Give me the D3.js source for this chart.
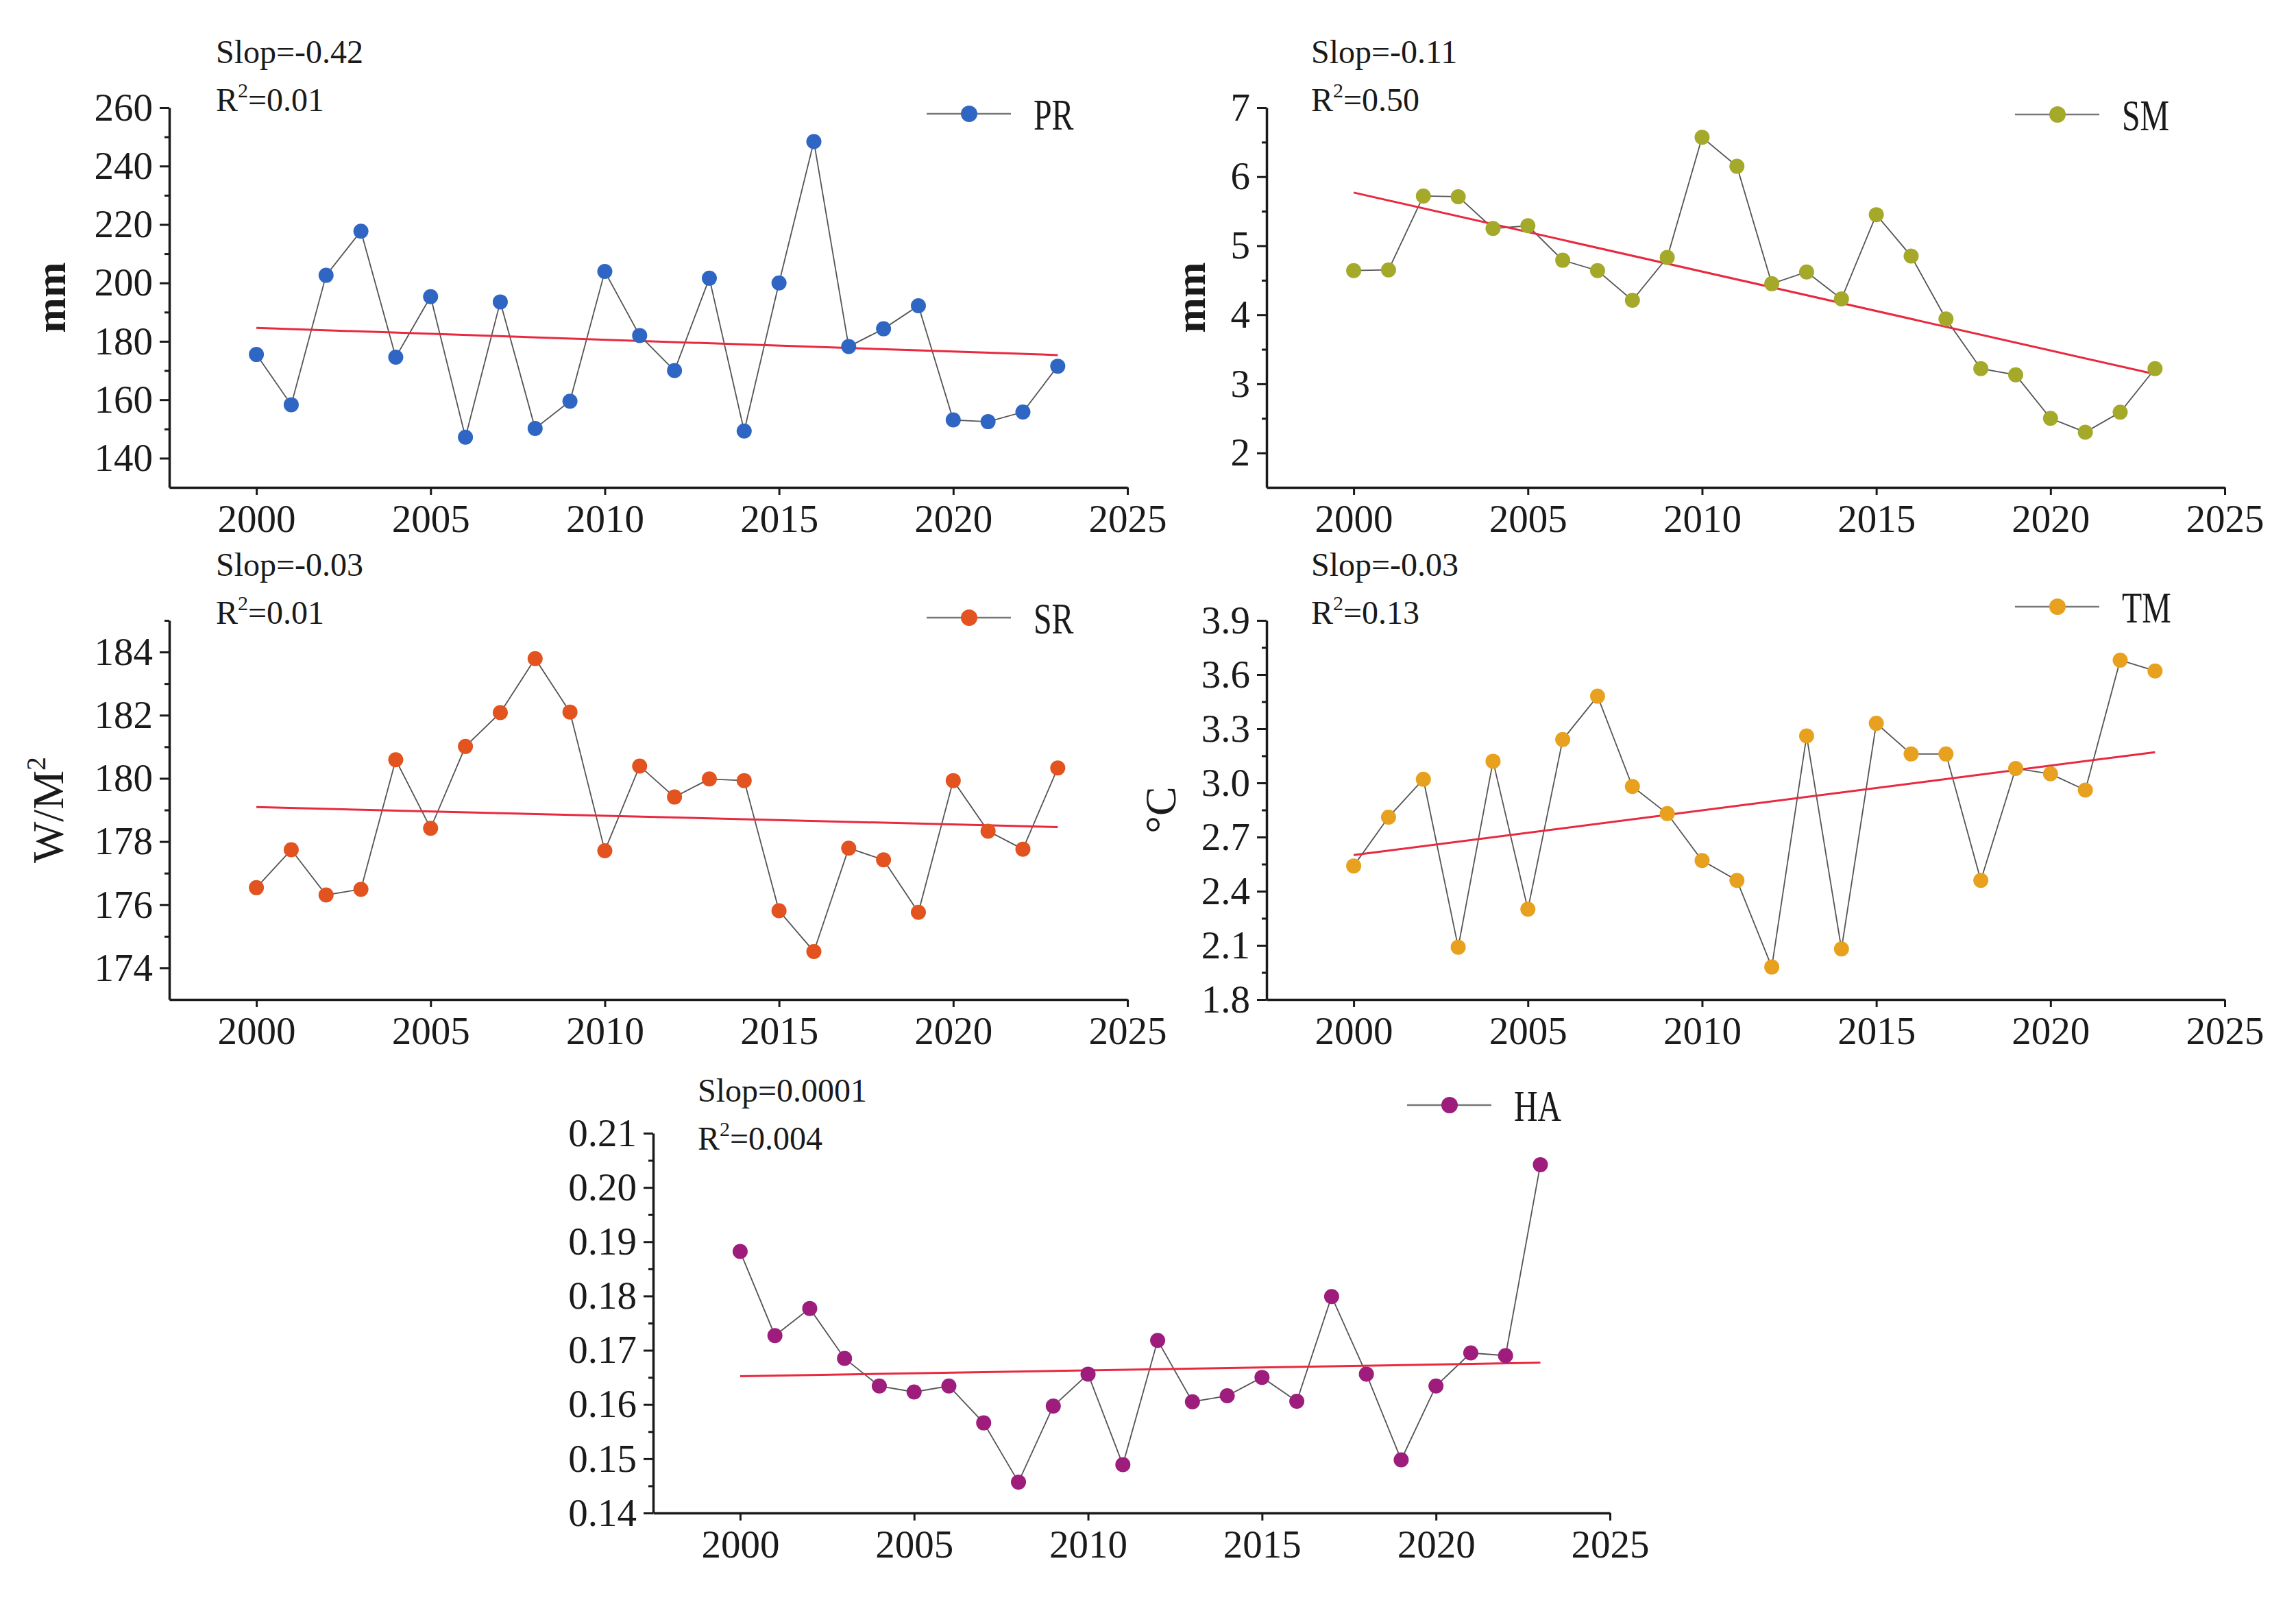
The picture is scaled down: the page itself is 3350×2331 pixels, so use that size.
<!DOCTYPE html>
<html>
<head>
<meta charset="utf-8">
<script src="https://cdn.jsdelivr.net/npm/d3@7/dist/d3.min.js"></script>
<style>
  body { margin: 0; background: #ffffff; }
  svg text { font-family: "Liberation Serif", "Times New Roman", serif !important; fill: #1a1a1a; }
</style>
</head>
<body>
<div id="svg-container"></div>
<script>
//years on the x axis
var years = [2000, 2001, 2002, 2003, 2004, 2005, 2006, 2007, 2008, 2009, 2010, 2011,
             2012, 2013, 2014, 2015, 2016, 2017, 2018, 2019, 2020, 2021, 2022, 2023];
var xTicks = [2000, 2005, 2010, 2015, 2020, 2025];

//series values
var prValues = [175.5, 158.3, 202.6, 217.7, 174.6, 195.3, 147.2, 193.5, 150.2, 159.5, 203.9, 182.0,
                170.0, 201.6, 149.3, 200.0, 248.4, 178.2, 184.3, 192.2, 153.1, 152.5, 155.8, 171.5];
var smValues = [4.64, 4.65, 5.72, 5.71, 5.25, 5.29, 4.79, 4.64, 4.21, 4.83, 6.57, 6.15,
                4.45, 4.62, 4.23, 5.45, 4.85, 3.94, 3.22, 3.13, 2.50, 2.30, 2.59, 3.22];
var srValues = [176.54, 177.74, 176.31, 176.49, 180.59, 178.42, 181.01, 182.08, 183.79, 182.10, 177.71, 180.39,
                179.41, 179.98, 179.93, 175.81, 174.52, 177.79, 177.42, 175.76, 179.93, 178.33, 177.76, 180.33];
var tmValues = [2.54, 2.81, 3.02, 2.09, 3.12, 2.30, 3.24, 3.48, 2.98, 2.83, 2.57, 2.46,
                1.98, 3.26, 2.08, 3.33, 3.16, 3.16, 2.46, 3.08, 3.05, 2.96, 3.68, 3.62];
var haValues = [0.1882, 0.1727, 0.1777, 0.1685, 0.1634, 0.1623, 0.1634, 0.1566, 0.1457, 0.1597, 0.1656, 0.1489,
                0.1718, 0.1605, 0.1616, 0.1650, 0.1606, 0.1799, 0.1656, 0.1498, 0.1634, 0.1695, 0.1690, 0.2042];

//trend line end values (2000 and 2023)
var trendYears = [2000, 2023];
var prTrend = [184.6, 175.3];
var smTrend = [5.77, 3.14];
var srTrend = [179.09, 178.46];
var tmTrend = [2.60, 3.17];
var haTrend = [0.1652, 0.1677];

//tick values for each y axis
var prTicks = [140, 160, 180, 200, 220, 240, 260];
var prMinor = [150, 170, 190, 210, 230, 250];
var smTicks = [2, 3, 4, 5, 6, 7];
var smMinor = [2.5, 3.5, 4.5, 5.5, 6.5];
var srTicks = [174, 176, 178, 180, 182, 184];
var srMinor = [175, 177, 179, 181, 183, 185];
var tmTicks = [1.8, 2.1, 2.4, 2.7, 3.0, 3.3, 3.6, 3.9];
var tmMinor = [1.95, 2.25, 2.55, 2.85, 3.15, 3.45, 3.75];
var haTicks = [0.14, 0.15, 0.16, 0.17, 0.18, 0.19, 0.20, 0.21];
var haMinor = [0.145, 0.155, 0.165, 0.175, 0.185, 0.195, 0.205];

//statistics text
var labels = ['PR', 'SM', 'SR', 'TM', 'HA'];
var slopTexts = ['Slop=-0.42', 'Slop=-0.11', 'Slop=-0.03', 'Slop=-0.03', 'Slop=0.0001'];
var r2Texts = ['=0.01', '=0.50', '=0.01', '=0.13', '=0.004'];

var serif = '"Liberation Serif", "Times New Roman", serif';

//panel layout
var panels = [
  { values: prValues, trend: prTrend, ticks: prTicks, minor: prMinor, yDomain: [130, 260],
    fmt: d3.format('d'), color: '#2f66c3',
    left: 247, right: 1645, top: 157, bottom: 711,
    title: 'mm', titleX: 95, bold: true,
    textX: 315, slopY: 92, r2Y: 162, legendX: 1414, legendY: 166 },
  { values: smValues, trend: smTrend, ticks: smTicks, minor: smMinor, yDomain: [1.5, 7],
    fmt: d3.format('d'), color: '#a4a92a',
    left: 1848, right: 3246, top: 157, bottom: 711,
    title: 'mm', titleX: 1758, bold: true,
    textX: 1913, slopY: 92, r2Y: 162, legendX: 3002, legendY: 167 },
  { values: srValues, trend: srTrend, ticks: srTicks, minor: srMinor, yDomain: [173, 185],
    fmt: d3.format('d'), color: '#e2531f',
    left: 247, right: 1645, top: 905, bottom: 1458,
    title: 'W/M', sup: '2', titleX: 92, bold: false,
    textX: 315, slopY: 840, r2Y: 910, legendX: 1414, legendY: 901 },
  { values: tmValues, trend: tmTrend, ticks: tmTicks, minor: tmMinor, yDomain: [1.8, 3.9],
    fmt: d3.format('.1f'), color: '#e8a11f',
    left: 1848, right: 3246, top: 905, bottom: 1458,
    title: '\u00B0C', titleX: 1715, bold: false,
    textX: 1913, slopY: 840, r2Y: 910, legendX: 3002, legendY: 885 },
  { values: haValues, trend: haTrend, ticks: haTicks, minor: haMinor, yDomain: [0.14, 0.21],
    fmt: d3.format('.2f'), color: '#9e1c7b',
    left: 953, right: 2349, top: 1653, bottom: 2207,
    title: null,
    textX: 1018, slopY: 1607, r2Y: 1677, legendX: 2115, legendY: 1612 }
];

//append svg element
var svg = d3.select('#svg-container').append('svg')
  .attr('width', 3350)
  .attr('height', 2331)
  .attr('font-family', serif);

svg.append('rect')
  .attr('width', 3350)
  .attr('height', 2331)
  .style('fill', '#ffffff');

panels.forEach(function(p, i) {
  var x = d3.scaleLinear().domain([1997.5, 2025]).range([p.left, p.right]);
  var y = d3.scaleLinear().domain(p.yDomain).range([p.bottom, p.top]);
  var g = svg.append('g');

  //minor y ticks
  var minorAxis = g.append('g')
    .attr('transform', 'translate(' + p.left + ',0)')
    .call(d3.axisLeft(y).tickValues(p.minor).tickSize(7).tickSizeOuter(0).tickFormat(''));
  minorAxis.select('.domain').remove();

  //major y axis
  g.append('g')
    .attr('transform', 'translate(' + p.left + ',0)')
    .call(d3.axisLeft(y).tickValues(p.ticks).tickSize(14).tickSizeOuter(0)
      .tickPadding(10).tickFormat(p.fmt));

  //x axis
  g.append('g')
    .attr('transform', 'translate(0,' + p.bottom + ')')
    .call(d3.axisBottom(x).tickValues(xTicks).tickSize(11).tickSizeOuter(0)
      .tickPadding(14).tickFormat(d3.format('d')));

  //axis styling: drop the default sans-serif font of d3 axes
  g.selectAll('g').attr('font-family', serif).attr('font-size', 57);
  g.selectAll('.domain').style('stroke', '#1a1a1a').style('stroke-width', 3.5);
  g.selectAll('.tick line').style('stroke', '#1a1a1a').style('stroke-width', 3);
  g.selectAll('.tick text')
    .attr('font-family', serif)
    .style('font-size', '57px')
    .style('fill', '#1a1a1a');

  //connecting line
  var line = d3.line()
    .x(function(d, j) { return x(years[j]); })
    .y(function(d) { return y(d); });
  g.append('path')
    .datum(p.values)
    .attr('d', line)
    .style('fill', 'none')
    .style('stroke', '#555555')
    .style('stroke-width', 1.8);

  //trend line
  var trendLine = d3.line()
    .x(function(d, j) { return x(trendYears[j]); })
    .y(function(d) { return y(d); });
  g.append('path')
    .datum(p.trend)
    .attr('d', trendLine)
    .style('fill', 'none')
    .style('stroke', '#e8293f')
    .style('stroke-width', 3);

  //points
  g.selectAll('circle.pt')
    .data(p.values)
    .enter().append('circle')
    .attr('class', 'pt')
    .attr('cx', function(d, j) { return x(years[j]); })
    .attr('cy', function(d) { return y(d); })
    .attr('r', 11)
    .style('fill', p.color);

  //slope and r2 text
  g.append('text')
    .attr('x', p.textX)
    .attr('y', p.slopY)
    .style('font-size', '48px')
    .text(slopTexts[i]);
  var r2 = g.append('text')
    .attr('x', p.textX)
    .attr('y', p.r2Y)
    .style('font-size', '48px');
  r2.append('tspan').text('R');
  r2.append('tspan').attr('dy', -20).style('font-size', '30px').text('2');
  r2.append('tspan').attr('dy', 20).text(r2Texts[i]);

  //legend
  g.append('line')
    .attr('x1', p.legendX - 62)
    .attr('x2', p.legendX + 61)
    .attr('y1', p.legendY)
    .attr('y2', p.legendY)
    .style('stroke', '#777777')
    .style('stroke-width', 2.5);
  g.append('circle')
    .attr('cx', p.legendX)
    .attr('cy', p.legendY)
    .attr('r', 12)
    .style('fill', p.color);
  g.append('text')
    .attr('transform', 'translate(' + (p.legendX + 94) + ',' + (p.legendY + 23) + ') scale(0.76,1)')
    .style('font-size', '63px')
    .text(labels[i]);

  //y axis title
  if (p.title) {
    var cy = (p.top + p.bottom) / 2;
    var t = g.append('text')
      .attr('transform', 'translate(' + p.titleX + ',' + cy + ') rotate(-90)')
      .attr('text-anchor', 'middle')
      .style('font-size', p.bold ? '62px' : '64px')
      .style('font-weight', p.bold ? 'bold' : 'normal');
    t.append('tspan').text(p.title);
    if (p.sup) {
      t.append('tspan').attr('dy', -26).style('font-size', '40px').text(p.sup);
    }
  }
});
</script>
</body>
</html>
